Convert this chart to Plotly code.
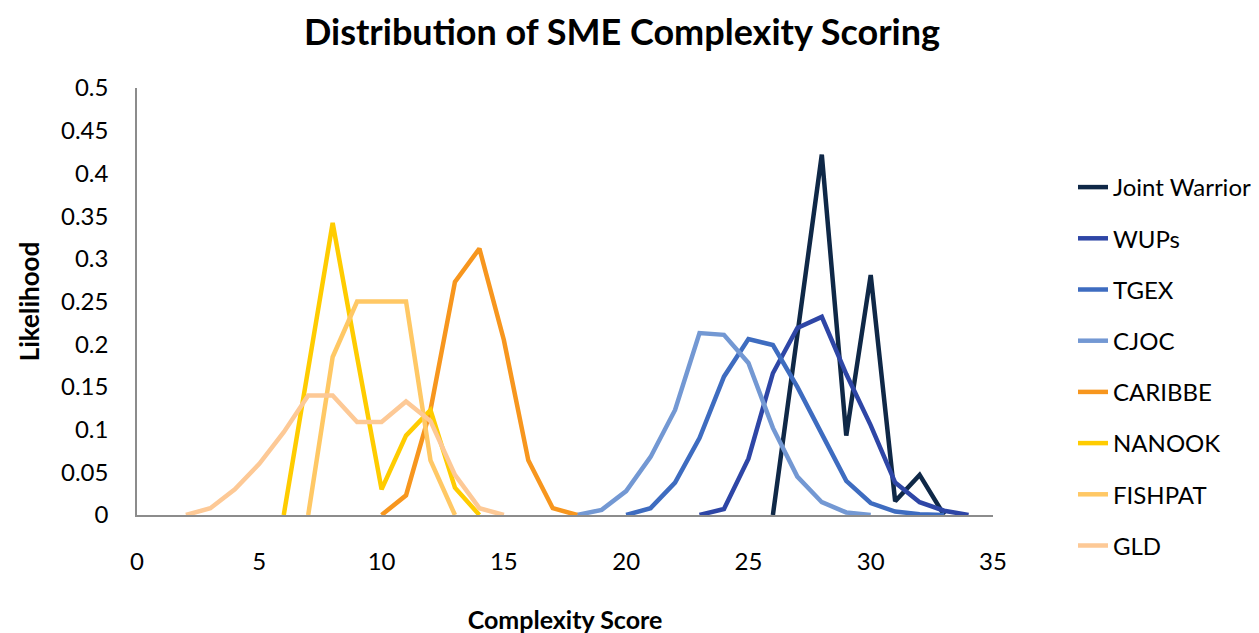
import plotly.graph_objects as go

# ---- data ----
series_names = ["Joint Warrior", "WUPs", "TGEX", "CJOC", "CARIBBE", "NANOOK", "FISHPAT", "GLD"]

jw_x = [26, 27, 28, 29, 30, 31, 32, 33]
jw_y = [0, 0.21, 0.422, 0.093, 0.281, 0.016, 0.047, 0.0]

wups_x = [23, 24, 25, 26, 27, 28, 29, 30, 31, 32, 33, 34]
wups_y = [0, 0.007, 0.066, 0.166, 0.219, 0.232, 0.165, 0.105, 0.038, 0.015, 0.005, 0]

tgex_x = [20, 21, 22, 23, 24, 25, 26, 27, 28, 29, 30, 31, 32, 33]
tgex_y = [0, 0.008, 0.038, 0.09, 0.162, 0.206, 0.199, 0.15, 0.095, 0.04, 0.014, 0.004, 0.001, 0]

cjoc_x = [18, 19, 20, 21, 22, 23, 24, 25, 26, 27, 28, 29, 30]
cjoc_y = [0, 0.006, 0.028, 0.068, 0.123, 0.213, 0.211, 0.178, 0.102, 0.045, 0.015, 0.003, 0]

caribbe_x = [10, 11, 12, 13, 14, 15, 16, 17, 18]
caribbe_y = [0, 0.023, 0.123, 0.273, 0.312, 0.205, 0.064, 0.008, 0]

nanook_x = [6, 7, 8, 9, 10, 11, 12, 13, 14]
nanook_y = [0, 0.17, 0.342, 0.185, 0.03, 0.093, 0.123, 0.032, 0]

fishpat_x = [7, 8, 9, 10, 11, 12, 13]
fishpat_y = [0, 0.185, 0.25, 0.25, 0.25, 0.064, 0]

gld_x = [2, 3, 4, 5, 6, 7, 8, 9, 10, 11, 12, 13, 14, 15]
gld_y = [0, 0.008, 0.03, 0.06, 0.097, 0.14, 0.14, 0.109, 0.109, 0.133, 0.11, 0.047, 0.008, 0]

x_tickvals = [0, 5, 10, 15, 20, 25, 30, 35]
y_tickvals = [0, 0.05, 0.1, 0.15, 0.2, 0.25, 0.3, 0.35, 0.4, 0.45, 0.5]
y_ticktext = ["0", "0.05", "0.1", "0.15", "0.2", "0.25", "0.3", "0.35", "0.4", "0.45", "0.5"]

colors = ["#0F2847", "#2E46A6", "#3E6CC0", "#7398D3", "#F7961E", "#FFCC00", "#FFC865", "#FDC996"]

xs = [jw_x, wups_x, tgex_x, cjoc_x, caribbe_x, nanook_x, fishpat_x, gld_x]
ys = [jw_y, wups_y, tgex_y, cjoc_y, caribbe_y, nanook_y, fishpat_y, gld_y]

FONT = "Lato"

fig = go.Figure()
for name, x, y, c in zip(series_names, xs, ys, colors):
    fig.add_trace(go.Scatter(
        x=x, y=y, name=name, mode="lines",
        line=dict(color=c, width=4.5),
        legendgroup=name,
    ))

fig.update_layout(
    width=1259, height=633,
    paper_bgcolor="white", plot_bgcolor="white",
    margin=dict(l=129, r=274, t=80, b=126),
    font=dict(family=FONT, color="#000000", size=24),
    title=dict(
        text="<b>Distribution of SME Complexity Scoring</b>",
        font=dict(family=FONT, size=36, color="#000000"),
        x=614 / 1259, xanchor="center", xref="container",
        y=1 - 24 / 633, yanchor="middle", yref="container",
    ),
    legend=dict(
        x=1065 / 1259, xref="container", xanchor="left",
        y=1 - 157 / 633, yref="container", yanchor="top",
        font=dict(family=FONT, size=24, color="#000000"),
        tracegroupgap=17,
        maxheight=1,
        bgcolor="rgba(0,0,0,0)",
    ),
    showlegend=True,
)

fig.update_xaxes(
    range=[0, 35], tickvals=x_tickvals, showgrid=False, zeroline=False,
    showline=True, linecolor="#8C8C8C", linewidth=1.5,
    ticks="", tickfont=dict(family=FONT, size=24, color="#000000"),
    ticklabelstandoff=24,
    title=dict(text="<b>Complexity Score</b>", font=dict(family=FONT, size=25, color="#000000"), standoff=38),
)
fig.update_yaxes(
    range=[0, 0.5], tickvals=y_tickvals, ticktext=y_ticktext, showgrid=False, zeroline=False,
    showline=True, linecolor="#8C8C8C", linewidth=1.5,
    ticks="", tickfont=dict(family=FONT, size=24, color="#000000"),
    ticklabelstandoff=22,
    title=dict(text="<b>Likelihood</b>", font=dict(family=FONT, size=26, color="#000000"), standoff=14),
)

fig.write_html("out.html")
